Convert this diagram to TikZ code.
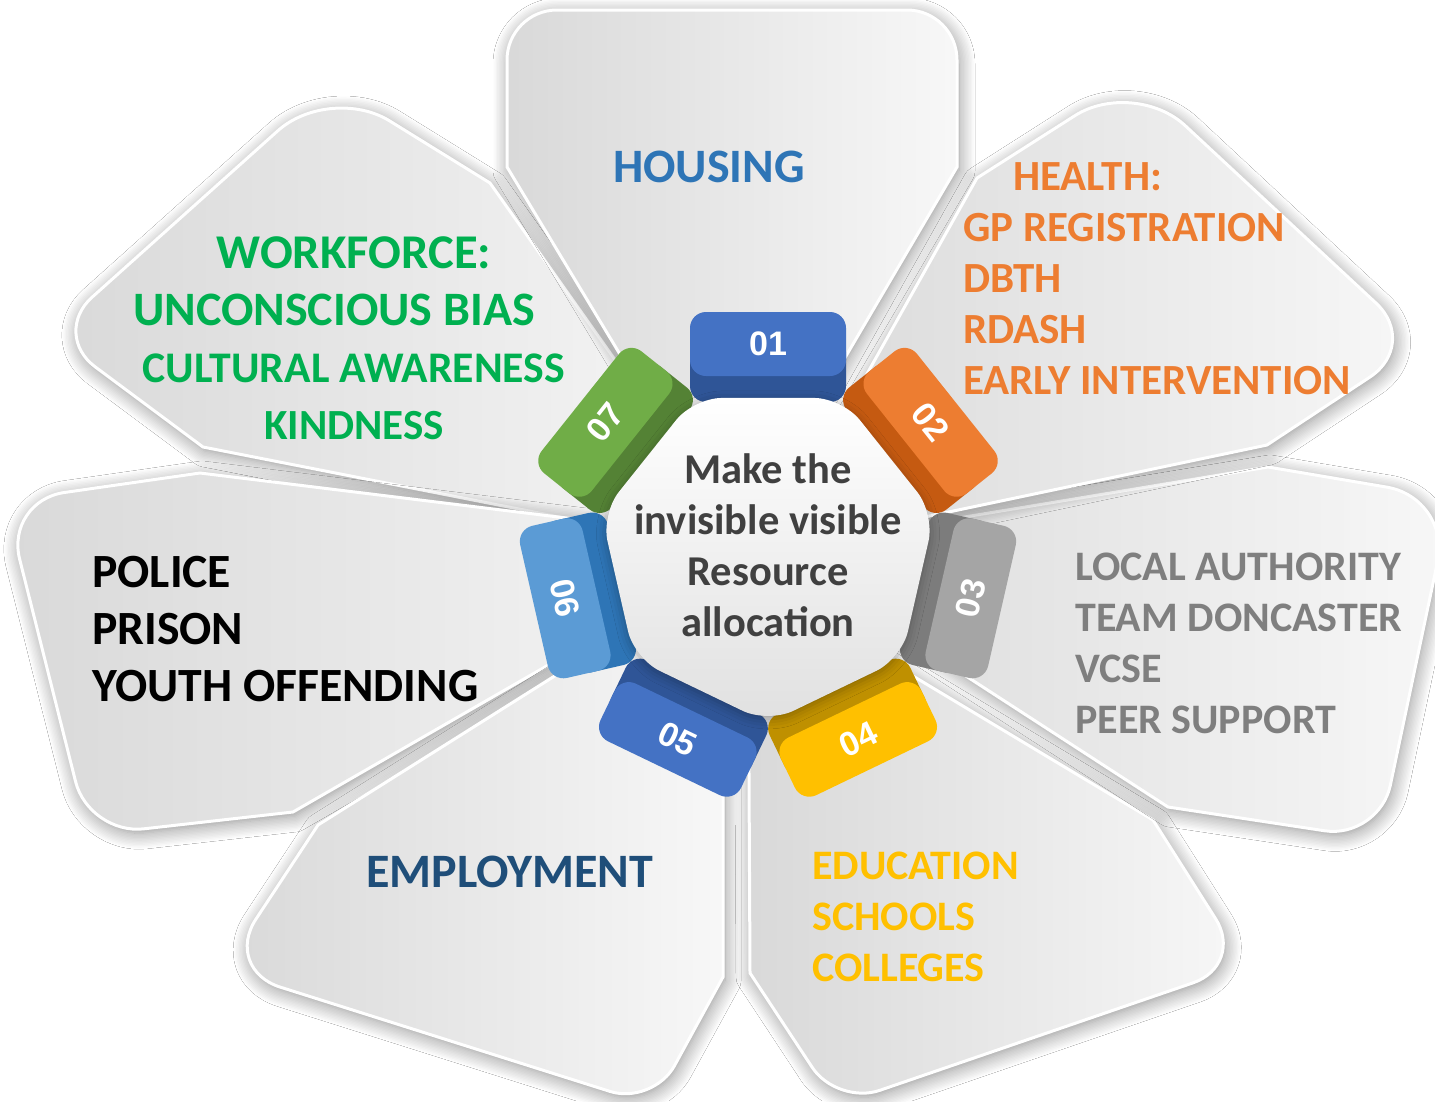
\documentclass[tikz,border=0pt]{standalone}
\usepackage{fontspec}
\setmainfont{Carlito}
\newfontfamily\numfont{Liberation Sans}
\usetikzlibrary{shapes.geometric,shadows.blur}

\definecolor{housingblue}{RGB}{46,117,182}
\definecolor{healthorange}{RGB}{237,125,49}
\definecolor{lagray}{RGB}{127,127,127}
\definecolor{edugold}{RGB}{255,192,0}
\definecolor{empnavy}{RGB}{31,78,121}
\definecolor{wfgreen}{RGB}{0,176,80}
\definecolor{hubgray}{RGB}{64,64,64}

\definecolor{tabblue}{RGB}{68,114,196}
\definecolor{tabblueD}{RGB}{47,85,151}
\definecolor{taborange}{RGB}{237,125,49}
\definecolor{taborangeD}{RGB}{197,90,17}
\definecolor{tabgray}{RGB}{165,165,165}
\definecolor{tabgrayD}{RGB}{124,124,124}
\definecolor{tabgold}{RGB}{255,192,0}
\definecolor{tabgoldD}{RGB}{191,144,0}
\definecolor{tabsky}{RGB}{91,155,213}
\definecolor{tabskyD}{RGB}{46,117,182}
\definecolor{tabgreen}{RGB}{112,173,71}
\definecolor{tabgreenD}{RGB}{84,130,53}

\tikzset{
  petal/.style={draw=white, line width=3pt, left color=black!15, right color=black!3,
    blur shadow={shadow xshift=2pt, shadow yshift=-4pt, shadow blur radius=16pt,
      shadow blur steps=12, shadow opacity=45}},
  tabside/.style={fill=#1, rounded corners=16pt},
  tabface/.style={fill=#1, rounded corners=16pt},
  tabnum/.style={text=white, inner sep=0pt, font=\numfont\bfseries\fontsize{34}{34}\selectfont},
  petaltext/.style={inner sep=0pt, font=\bfseries\fontsize{42}{51}\selectfont},
  hub/.style={regular polygon, regular polygon sides=7, minimum size=342pt,
    shape border rotate=180, rounded corners=28pt, inner sep=0pt,
    top color=white, bottom color=black!12,
    blur shadow={shadow xshift=0pt, shadow yshift=-3pt, shadow blur radius=10pt, shadow opacity=30}},
}

\begin{document}
\begin{tikzpicture}[x=1pt, y=-1pt]
		\useasboundingbox (0,0) rectangle (1435,1101);
		\fill[white] (0,0) rectangle (1435,1101);

		% petals
		\draw[petal] (753,555) -- (203,447) [rounded corners=55pt] -- (51,334) [rounded corners=70pt] -- (330,84) [sharp corners] -- (490,183) -- cycle;
		\draw[petal] (762,542) -- (293,812) [rounded corners=55pt] -- (89,835) [rounded corners=60pt] -- (5,501) [sharp corners] -- (200,473) -- cycle;
		\draw[petal] (723,570) -- (723,977) [rounded corners=45pt] -- (653,1105) [rounded corners=60pt] -- (223,969) [sharp corners] -- (318,825) -- cycle;
		\draw[petal] (748,577) -- (750,973) [rounded corners=45pt] -- (837,1105) [rounded corners=55pt] -- (1245,965) [sharp corners] -- (1153,820) -- cycle;
		\draw[petal] (770,549) -- (1168,807) [rounded corners=55pt] -- (1379,839) [rounded corners=65pt] -- (1451,498) [sharp corners] -- (1268,467) -- cycle;
		\draw[petal] (768,550) -- (1267,445) [rounded corners=60pt] -- (1420,344) [rounded corners=70pt] -- (1134,78) [sharp corners] -- (977,178) -- cycle;
		\draw[petal] (735,545) -- (507,167) [rounded corners=50pt] -- (507,10) -- (957,10) [sharp corners] -- (957,167) -- cycle;

		% tabs
		\begin{scope}[shift={(768,552)}, y=1pt, rotate=0]
			\fill[tabside=tabblueD] (-78,150) rectangle (78,216);
			\fill[tabface=tabblue] (-78,176) rectangle (78,240);
			\node[tabnum] (t01) at (0,208) {01};
		\end{scope}
		\begin{scope}[shift={(768,552)}, y=1pt, rotate=-51.43]
			\fill[tabside=taborangeD] (-78,150) rectangle (78,216);
			\fill[tabface=taborange] (-78,176) rectangle (78,240);
			\node[tabnum, rotate=-51.43] (t02) at (0,208) {02};
		\end{scope}
		\begin{scope}[shift={(768,552)}, y=1pt, rotate=-102.86]
			\fill[tabside=tabgrayD] (-78,150) rectangle (78,216);
			\fill[tabface=tabgray] (-78,176) rectangle (78,240);
			\node[tabnum, rotate=77.14] (t03) at (0,208) {03};
		\end{scope}
		\begin{scope}[shift={(768,552)}, y=1pt, rotate=-154.29]
			\fill[tabside=tabgoldD] (-78,150) rectangle (78,216);
			\fill[tabface=tabgold] (-78,176) rectangle (78,240);
			\node[tabnum, rotate=25.71] (t04) at (0,208) {04};
		\end{scope}
		\begin{scope}[shift={(768,552)}, y=1pt, rotate=-205.71]
			\fill[tabside=tabblueD] (-78,150) rectangle (78,216);
			\fill[tabface=tabblue] (-78,176) rectangle (78,240);
			\node[tabnum, rotate=-25.71] (t05) at (0,208) {05};
		\end{scope}
		\begin{scope}[shift={(768,552)}, y=1pt, rotate=-257.14]
			\fill[tabside=tabskyD] (-78,150) rectangle (78,216);
			\fill[tabface=tabsky] (-78,176) rectangle (78,240);
			\node[tabnum, rotate=-77.14] (t06) at (0,208) {06};
		\end{scope}
		\begin{scope}[shift={(768,552)}, y=1pt, rotate=51.43]
			\fill[tabside=tabgreenD] (-78,150) rectangle (78,216);
			\fill[tabface=tabgreen] (-78,176) rectangle (78,240);
			\node[tabnum, rotate=51.43] (t07) at (0,208) {07};
		\end{scope}

		% centre
		\node[hub] (hub) at (768,552) {};
		\node[align=center, text=hubgray, inner sep=0pt, anchor=north,
			font=\bfseries\fontsize{42.5}{51}\selectfont] (hubtxt) at (768,453)
			{Make the\\invisible visible\\Resource\\allocation};

		% petal texts
		\node[petaltext, text=housingblue, anchor=north, font=\bfseries\fontsize{48}{51}\selectfont] (housing) at (709,151) {HOUSING};
		\node[petaltext, text=healthorange, anchor=north west, align=left, font=\bfseries\fontsize{43}{51}\selectfont] (health) at (963,162)
			{\hspace*{50pt}HEALTH:\\GP REGISTRATION\\DBTH\\RDASH\\EARLY INTERVENTION};
		\node[petaltext, text=lagray, anchor=north west, align=left] (authority) at (1075,553)
			{LOCAL AUTHORITY\\TEAM DONCASTER\\VCSE\\PEER SUPPORT};
		\node[petaltext, text=edugold, anchor=north west, align=left] (education) at (812,852)
			{EDUCATION\\SCHOOLS\\COLLEGES};
		\node[petaltext, text=empnavy, anchor=north west, font=\bfseries\fontsize{48}{51}\selectfont] (employment) at (366,856) {EMPLOYMENT};
		\node[petaltext, text=black, anchor=north west, align=left, font=\bfseries\fontsize{47.7}{57}\selectfont] (police) at (92,556)
			{POLICE\\PRISON\\YOUTH OFFENDING};
		\node[petaltext, text=wfgreen, anchor=north, align=center, font=\bfseries\fontsize{48.5}{57}\selectfont] (workforce) at (354,236)
			{WORKFORCE:\\\hbox{\fontsize{48}{57}\selectfont UNCONSCIOUS BIAS\kern40pt}\\{\fontsize{43.7}{57}\selectfont CULTURAL AWARENESS}\\{\fontsize{43}{57}\selectfont KINDNESS}};

		\end{tikzpicture}
\end{document}
